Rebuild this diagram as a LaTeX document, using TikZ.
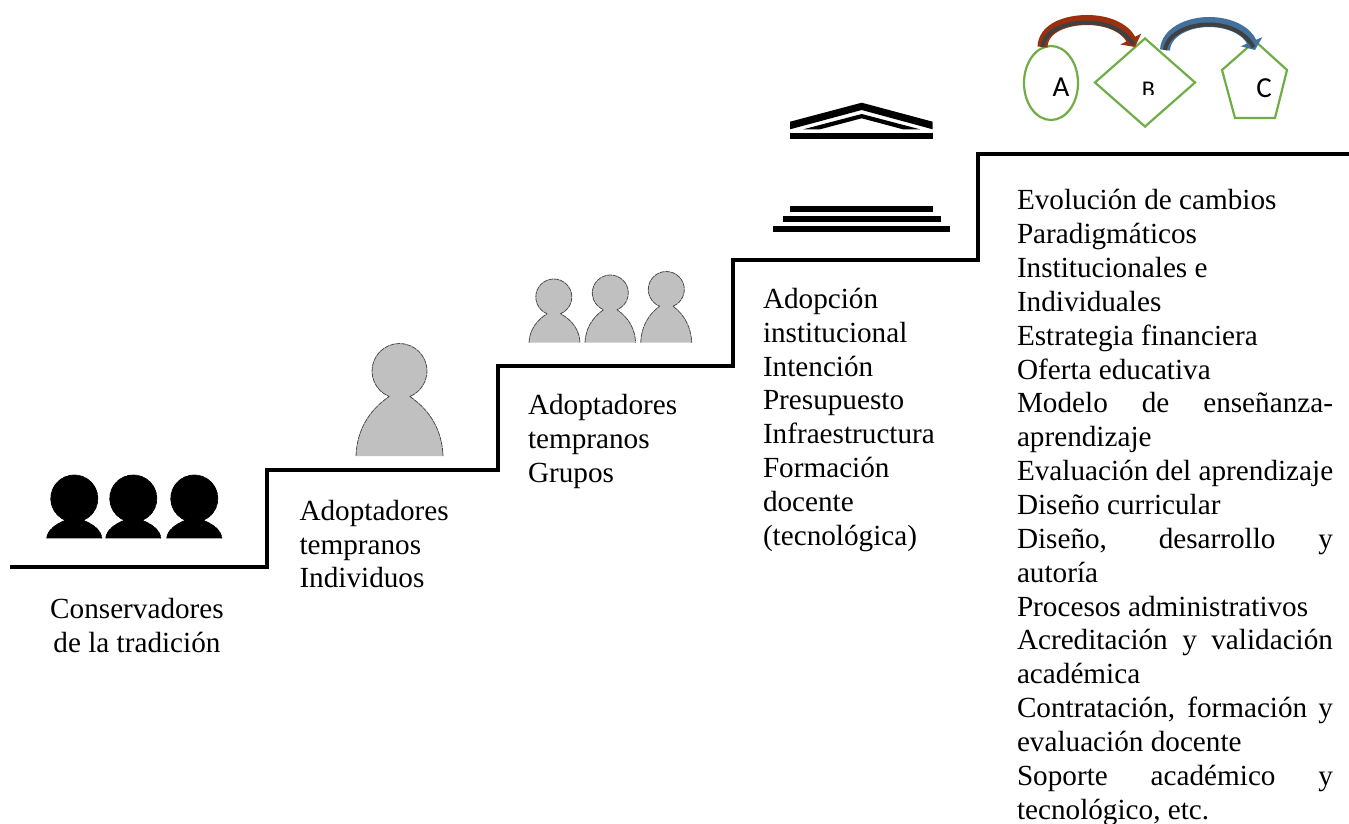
\documentclass[tikz,border=0pt]{standalone}
\usepackage{fontspec}
\setmainfont{Liberation Serif}
\newfontfamily\shapefont{Carlito}
\usetikzlibrary{shapes.geometric,arrows.meta}
\definecolor{sgreen}{HTML}{70AD47}
\definecolor{sred}{HTML}{9C2F0E}
\definecolor{sblue}{HTML}{41719C}
\definecolor{sdark}{HTML}{404040}
\definecolor{pgrey}{HTML}{C0C0C0}
\newlength{\blockw}\setlength{\blockw}{316pt}
\newcommand{\jl}[1]{\makebox[\blockw][s]{#1}}
% cx cy r bodycx hw bottom fill stroke
\newcommand{\personshape}[8]{%
  \pgfmathsetmacro{\nlx}{#1-#3*cos(68)}%
  \pgfmathsetmacro{\ny}{#2+#3*sin(68)}%
  \pgfmathsetmacro{\hh}{#6-\ny}%
  \pgfmathsetmacro{\lcax}{#4-#5+0.02*#5}%
  \pgfmathsetmacro{\lcbx}{#4-#5+0.28*#5}%
  \pgfmathsetmacro{\rcax}{#4+#5-0.02*#5}%
  \pgfmathsetmacro{\rcbx}{#4+#5-0.28*#5}%
  \pgfmathsetmacro{\cay}{#6-0.42*\hh}%
  \pgfmathsetmacro{\cby}{#6-0.76*\hh}%
  \path[fill=#7]
    ({#4-#5},#6) .. controls (\lcax,\cay) and (\lcbx,\cby) .. (\nlx,\ny)
    arc[start angle=248,end angle=-68,radius=#3pt]
    .. controls (\rcbx,\cby) and (\rcax,\cay) .. ({#4+#5},#6) -- cycle;
  \path[draw=#8,line width=0.8pt,line join=round,dash pattern=on 5pt off 0.7pt]
    ({#4-#5},#6) .. controls (\lcax,\cay) and (\lcbx,\cby) .. (\nlx,\ny)
    arc[start angle=248,end angle=-68,radius=#3pt]
    .. controls (\rcbx,\cby) and (\rcax,\cay) .. ({#4+#5},#6);
}
\tikzset{
  stairline/.style={line width=4pt,black,line join=miter},
  body text/.style={inner sep=0pt,outer sep=0pt,anchor=north west,align=left,font=\fontsize{29.2}{33.86}\selectfont},
  greenshape/.style={draw=sgreen,line width=2.2pt,inner sep=0pt,minimum size=0pt},
  shape label/.style={inner sep=0pt,text=black,font=\shapefont\fontsize{29}{30}\selectfont},
  temple/.style={fill=black,draw=none},
  redband/.style={draw=sred,line width=10pt,-{Triangle[length=9pt,width=23pt]},shorten >=0pt},
  blueband/.style={draw=sblue,line width=10pt,-{Triangle[length=9pt,width=23pt]}},
  core/.style={draw=sdark,line width=4pt,shorten >=3pt}
}
\begin{document}
\begin{tikzpicture}[x=1pt,y=-1pt]
\path[use as bounding box,fill=white] (0,0) rectangle (1349,823);

% stairs
\coordinate (s0) at (10,567);
\coordinate (s1) at (267,567);
\coordinate (s2) at (267,470);
\coordinate (s3) at (498,470);
\coordinate (s4) at (498,366);
\coordinate (s5) at (733,366);
\coordinate (s6) at (733,260);
\coordinate (s7) at (978,260);
\coordinate (s8) at (978,154);
\coordinate (s9) at (1349,154);
\draw[stairline] (s0) -- (s1) -- (s2) -- (s3) -- (s4) -- (s5) -- (s6) -- (s7) -- (s8) -- (s9);

% persons
\personshape{74.3}{498.5}{23.5}{74.3}{27.5}{538.3}{black}{black}
\personshape{133.3}{498.5}{23.5}{133.3}{27.5}{538.3}{black}{black}
\personshape{194.3}{498.5}{23.5}{194.3}{27.5}{538.3}{black}{black}
\personshape{399.5}{371}{27.5}{399.5}{43.5}{456}{pgrey}{gray!60!black}
\personshape{553.8}{297}{18}{554.5}{25.5}{342.7}{pgrey}{gray!60!black}
\personshape{610.3}{293}{18}{610.3}{25.3}{342.7}{pgrey}{gray!60!black}
\personshape{666.3}{289.5}{18}{666.2}{25.5}{342.7}{pgrey}{gray!60!black}

% temple
\fill[temple] (790,121.7) -- (861.7,102.7) -- (932.7,121.7) -- (932.7,129.3) -- (861.7,110) -- (790,129.3) -- cycle;
\fill[temple] (803.3,129.3) -- (861.7,114) -- (920,129.3) -- (903,129.3) -- (861.7,118.3) -- (820,129.3) -- cycle;
\fill[temple] (790,133.3) rectangle (932.7,139.3);
\fill[temple] (790,206.3) rectangle (932.7,212.3);
\fill[temple] (782.7,216) rectangle (941,222);
\fill[temple] (773,226.3) rectangle (950,232);

% texts
\node[body text,align=center,anchor=north] (t1) at (137,598.7) {Conservadores\\de la tradición};
\node[body text] (t2) at (299.5,500) {Adoptadores\\tempranos\\Individuos};
\node[body text] (t3) at (528,394.5) {Adoptadores\\tempranos\\Grupos};
\node[body text] (t4) at (763,288) {Adopción\\institucional\\Intención\\Presupuesto\\Infraestructura\\Formación\\docente\\(tecnológica)};
\node[body text] (t5) at (1017,189.5) {Evolución de cambios\\Paradigmáticos\\Institucionales e\\Individuales\\Estrategia financiera\\Oferta educativa\\\jl{Modelo de enseñanza-}\\aprendizaje\\Evaluación del aprendizaje\\Diseño curricular\\\jl{Diseño, desarrollo y}\\autoría\\Procesos administrativos\\\jl{Acreditación y validación}\\académica\\\jl{Contratación, formación y}\\evaluación docente\\\jl{Soporte académico y}\\tecnológico, etc.};

% abc shapes
\node[greenshape,ellipse,minimum width=54pt,minimum height=74pt] (A) at (1051,83) {};
\node[greenshape,diamond,minimum width=101pt,minimum height=89pt] (B) at (1145,82.5) {};
\coordinate (p1) at (1255,41);
\coordinate (p2) at (1287,70);
\coordinate (p3) at (1275,118);
\coordinate (p4) at (1235,118);
\coordinate (p5) at (1222,70);
\draw[greenshape,line join=miter] (p1) -- (p2) -- (p3) -- (p4) -- (p5) -- cycle;
\node[shape label] (lA) at (1061,87.5) {A};
\begin{scope}
\clip (1130,70) rectangle (1170,94);
\node[shape label,font=\shapefont\fontsize{24}{28}\selectfont] (lB) at (1148.5,89.5) {B};
\end{scope}
\node[shape label] (lC) at (1264,88) {C};

% arrows
\coordinate (a1) at (1042.5,47);
\coordinate (a2) at (1135,47);
\coordinate (b1) at (1165,50);
\coordinate (b2) at (1255,50);
\draw[redband] (a1) .. controls (1043,28) and (1066,20) .. (1087,20) .. controls (1108,20) and (1125,28) .. (a2);
\draw[core] (a1) .. controls (1044,30) and (1066,22.5) .. (1087,22.5) .. controls (1107,22.5) and (1124,30) .. (a2);
\draw[blueband] (b1) .. controls (1166,32) and (1188,22) .. (1209,22) .. controls (1230,22) and (1247,31) .. (b2);
\draw[core] (b1) .. controls (1167,34) and (1188,24.5) .. (1209,24.5) .. controls (1229,24.5) and (1246,33) .. (b2);
\end{tikzpicture}
\end{document}
